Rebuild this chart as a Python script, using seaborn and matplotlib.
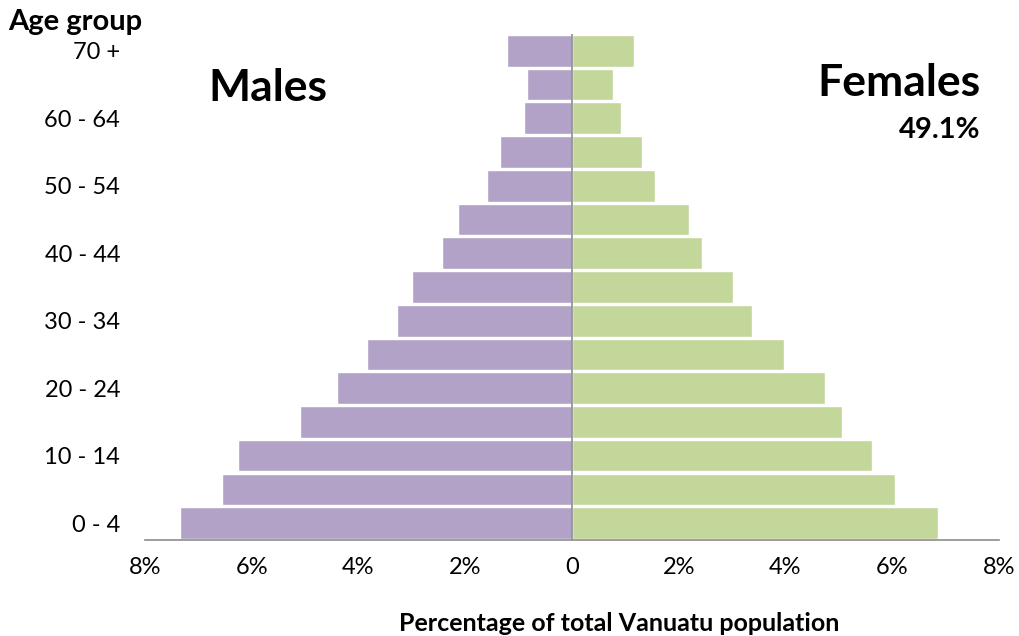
import pandas as pd
import numpy as np
import matplotlib
matplotlib.use("Agg")
import matplotlib.pyplot as plt
import seaborn as sns

# ── Data (percent of total population) ──────────────────────
age_groups = ["0 - 4", "5 - 9", "10 - 14", "15 - 19", "20 - 24", "25 - 29",
              "30 - 34", "35 - 39", "40 - 44", "45 - 49", "50 - 54", "55 - 59",
              "60 - 64", "65 - 69", "70 +"]
males = [7.35, 6.55, 6.25, 5.09, 4.40, 3.84, 3.28, 2.99, 2.44, 2.13,
         1.59, 1.34, 0.90, 0.84, 1.21]
females = [6.85, 6.06, 5.62, 5.06, 4.74, 3.97, 3.38, 3.02, 2.43, 2.20,
           1.55, 1.32, 0.91, 0.76, 1.16]
female_share = "49.1%"

x_ticks = [-8, -6, -4, -2, 0, 2, 4, 6, 8]
x_tick_labels = ["8%", "6%", "4%", "2%", "0", "2%", "4%", "6%", "8%"]

df = pd.DataFrame({
    "age": age_groups * 2,
    "value": [-m for m in males] + females,
    "sex": ["Males"] * len(males) + ["Females"] * len(females),
})

# ── Plot ────────────────────────────────────────────────────
sns.set_theme(style="white")
plt.rcParams["font.family"] = ["Lato", "DejaVu Sans"]
plt.rcParams["text.color"] = "black"
plt.rcParams["xtick.labelcolor"] = "black"
plt.rcParams["ytick.labelcolor"] = "black"
plt.rcParams["axes.labelcolor"] = "black"

fig = plt.figure(figsize=(10.19, 6.36), dpi=100)
ax = fig.add_axes([0.1423, 0.151, 0.838, 0.7955])

order = age_groups[::-1]  # 70+ on top
sns.barplot(data=df, x="value", y="age", hue="sex", order=order,
            hue_order=["Males", "Females"], dodge=False, width=0.94,
            palette={"Males": "#B3A2C7", "Females": "#C4D79B"},
            orient="h", ax=ax, legend=False, saturation=1)

ax.set_xlim(-8, 8)
ax.set_ylim(len(order) - 0.5, -0.5)
ax.set_xticks(x_ticks)
ax.set_xticklabels(x_tick_labels, fontsize=17)
ax.set_yticks(range(len(order)))
ax.set_yticklabels([lbl if i % 2 == 0 else "" for i, lbl in enumerate(order)],
                   fontsize=17)
ax.tick_params(axis="x", length=6, width=1.2, color="#8c8c8c", direction="out", pad=6)
ax.tick_params(axis="y", length=0, pad=18)
for s in ["top", "right", "left"]:
    ax.spines[s].set_visible(False)
ax.spines["bottom"].set_color("#8c8c8c")
ax.spines["bottom"].set_linewidth(1.2)
ax.axvline(0, color="#8c8c8c", lw=1.2, zorder=5)

ax.set_xlabel("Percentage of total Vanuatu population", fontsize=18,
              fontweight="bold")
ax.xaxis.set_label_coords(0.555, -0.142)
ax.set_ylabel("")

fig.text(0.008, 0.965, "Age group", fontsize=21, fontweight="bold", va="center")
fig.text(0.204, 0.861, "Males", fontsize=32, fontweight="bold", va="center")
fig.text(0.962, 0.869, "Females", fontsize=32, fontweight="bold",
         va="center", ha="right")
fig.text(0.962, 0.795, female_share, fontsize=21, fontweight="bold",
         va="center", ha="right")

fig.savefig("out.png", dpi=100)
